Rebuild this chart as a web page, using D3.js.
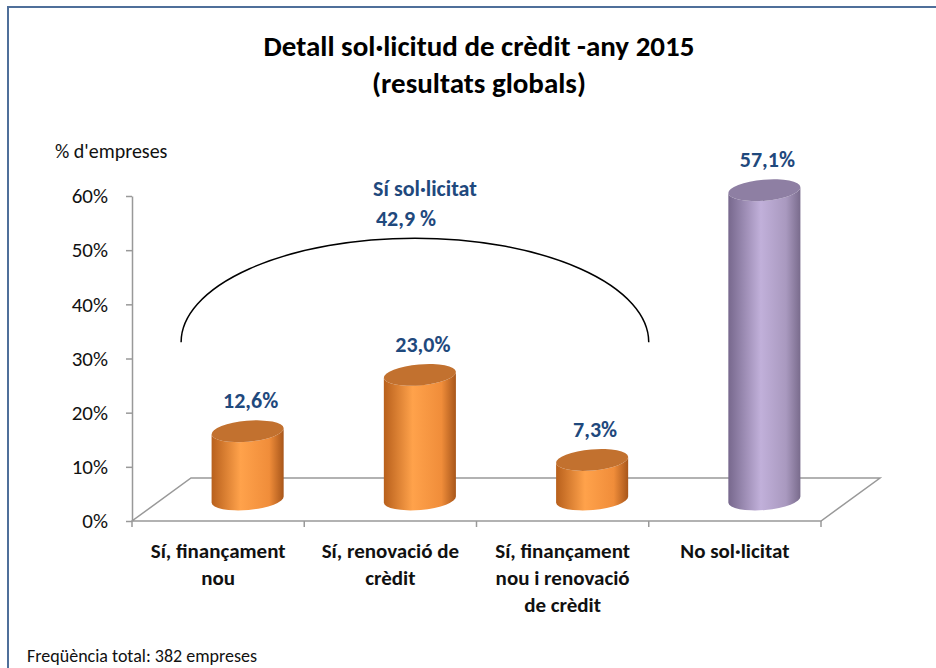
<!DOCTYPE html>
<html>
<head>
<meta charset="utf-8">
<script src="https://cdn.jsdelivr.net/npm/d3@7"></script>
<style>
  body { margin: 0; background: #fff; }
  svg { display: block; font-family: Carlito, Calibri, Lato, sans-serif; }
</style>
</head>
<body>
<svg id="chart" width="936" height="668"></svg>
<script>
// data
const categories = ["Sí, finançament nou", "Sí, renovació de crèdit", "Sí, financament nou i renovació de crèdit", "No sol·licitat"];
const labelLines = [["Sí, finançament", "nou"], ["Sí, renovació de", "crèdit"], ["Sí, finançament", "nou i renovació", "de crèdit"], ["No sol·licitat"]];
const values = [0.126, 0.230, 0.073, 0.571];
const groups = ["si", "si", "si", "no"];
const yTicks = [0, 0.1, 0.2, 0.3, 0.4, 0.5, 0.6];

const ca = d3.formatLocale({decimal: ",", thousands: ".", grouping: [3], currency: ["", " €"]});
const fmt = ca.format(".1%");

const svg = d3.select("#chart");
const blue = "#1F497D";

// frame
svg.append("rect")
  .attr("x", 8).attr("y", 7)
  .attr("width", 940).attr("height", 680)
  .attr("fill", "#fff")
  .attr("stroke", "#4F6F9A")
  .attr("stroke-width", 2);

const x = d3.scaleBand().domain(categories).range([132, 821]).padding(0);
const y = d3.scaleLinear().domain([0, 0.6]).range([521, 196]);
const bw = x.bandwidth();
const depth = {dx: 59, dy: -43};

// floor
const x0 = x.range()[0], x1 = x.range()[1], yb = y(0);
svg.append("path")
  .attr("d", `M${x0},${yb} L${x1},${yb} L${x1 + depth.dx},${yb + depth.dy} L${x0 + depth.dx},${yb + depth.dy} Z`)
  .attr("fill", "none")
  .attr("stroke", "#999")
  .attr("stroke-width", 1.5);

// x ticks at band edges
const edges = categories.map(d => x(d)).concat([x1]);
svg.selectAll(".xtick").data(edges).enter().append("line")
  .attr("x1", d => d).attr("x2", d => d)
  .attr("y1", yb).attr("y2", yb + 6)
  .attr("stroke", "#999").attr("stroke-width", 1.5);

// y axis
const yAxis = svg.append("g")
  .attr("transform", `translate(${x0},0)`)
  .call(d3.axisLeft(y).tickValues(yTicks).tickFormat(d3.format(".0%")).tickSize(6).tickSizeOuter(0).tickPadding(18));
yAxis.select(".domain").attr("stroke", "#999").attr("stroke-width", 1.5);
yAxis.selectAll(".tick line").attr("stroke", "#999").attr("stroke-width", 1.5);
yAxis.selectAll(".tick text").attr("font-size", 21).attr("fill", "#111").attr("font-family", "Carlito, Calibri, Lato, sans-serif");

// gradients
const defs = svg.append("defs");
const palette = {
  si: {stops: [["0%", "#B8601C"], ["40%", "#FFA24B"], ["80%", "#F08D3A"], ["100%", "#A8561A"]], top: "#C2712F"},
  no: {stops: [["0%", "#77688D"], ["45%", "#C1B0DA"], ["80%", "#A999BF"], ["100%", "#796B8C"]], top: "#8E7FA3"}
};
Object.keys(palette).forEach(k => {
  const g = defs.append("linearGradient").attr("id", "grad-" + k)
    .attr("x1", "0%").attr("x2", "100%").attr("y1", "0%").attr("y2", "0%");
  palette[k].stops.forEach(s => g.append("stop").attr("offset", s[0]).attr("stop-color", s[1]));
});

// cylinders
const rx = bw * 0.21, ry = 10.5, rot = -5;
const th = rot * Math.PI / 180;
const ex = rx * Math.cos(th), ey = rx * Math.sin(th);

const bars = svg.selectAll(".bar").data(categories).enter().append("g");
bars.each(function(d, i) {
  const g = d3.select(this);
  const cx = x(d) + bw / 2 + depth.dx / 2;
  const cb = y(0) + depth.dy / 2;
  const ct = y(values[i]) + depth.dy / 2;
  const k = groups[i];
  g.append("path")
    .attr("d", `M${cx - ex},${ct - ey} L${cx - ex},${cb - ey} A${rx},${ry} ${rot} 0 0 ${cx + ex},${cb + ey} L${cx + ex},${ct + ey} A${rx},${ry} ${rot} 0 1 ${cx - ex},${ct - ey} Z`)
    .attr("fill", `url(#grad-${k})`);
  g.append("ellipse")
    .attr("cx", cx).attr("cy", ct)
    .attr("rx", rx).attr("ry", ry)
    .attr("transform", `rotate(${rot},${cx},${ct})`)
    .attr("fill", palette[k].top);
  g.append("text")
    .attr("x", cx + 3).attr("y", ct - 23)
    .attr("text-anchor", "middle")
    .attr("font-size", 22).attr("font-weight", "bold")
    .attr("fill", blue)
    .text(fmt(values[i]));
});

// category labels
labelLines.forEach((lines, i) => {
  const t = svg.append("text")
    .attr("text-anchor", "middle")
    .attr("font-size", 21).attr("font-weight", "bold")
    .attr("fill", "#111");
  lines.forEach((l, j) => {
    t.append("tspan")
      .attr("x", x(categories[i]) + bw / 2)
      .attr("y", 558 + j * 27)
      .text(l);
  });
});

// bracket over the "Sí" bars
const xL = x(categories[0]) + bw * 0.285, xR = x(categories[2]) + bw;
const yEnd = y(0.33), yTop = y(0.522);
svg.append("path")
  .attr("d", `M${xL},${yEnd} A${(xR - xL) / 2},${yEnd - yTop} 0 0 1 ${xR},${yEnd}`)
  .attr("fill", "none")
  .attr("stroke", "#000")
  .attr("stroke-width", 1.5);

const siTotal = d3.sum(values.filter((v, i) => groups[i] === "si"));
svg.append("text")
  .attr("x", 425).attr("y", 196)
  .attr("text-anchor", "middle")
  .attr("font-size", 22).attr("font-weight", "bold").attr("fill", blue)
  .text("Sí sol·licitat");
svg.append("text")
  .attr("x", 406).attr("y", 226)
  .attr("text-anchor", "middle")
  .attr("font-size", 22).attr("font-weight", "bold").attr("fill", blue)
  .text(ca.format(".1f")(siTotal * 100) + " %");

// titles
svg.append("text")
  .attr("x", 479).attr("y", 56)
  .attr("text-anchor", "middle")
  .attr("font-size", 29).attr("font-weight", "bold").attr("fill", "#000")
  .text("Detall sol·licitud de crèdit -any 2015");
svg.append("text")
  .attr("x", 479).attr("y", 93)
  .attr("text-anchor", "middle")
  .attr("font-size", 29).attr("font-weight", "bold").attr("fill", "#000")
  .text("(resultats globals)");

svg.append("text")
  .attr("x", 55).attr("y", 158)
  .attr("font-size", 20).attr("fill", "#111")
  .text("% d'empreses");

svg.append("text")
  .attr("x", 27).attr("y", 662)
  .attr("font-size", 18).attr("fill", "#111")
  .text("Freqüència total: 382 empreses");
</script>
</body>
</html>
